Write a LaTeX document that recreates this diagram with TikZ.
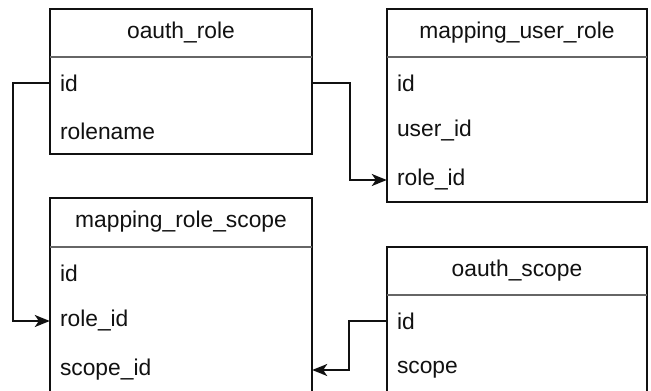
\documentclass[tikz,border=0pt]{standalone}
\usepackage{fontspec}
\setmainfont{Liberation Sans}
\usetikzlibrary{arrows.meta}
\definecolor{ink}{HTML}{111111}
\definecolor{sep}{HTML}{666666}
\begin{document}
\begin{tikzpicture}[x=1pt,y=-1pt,
  tblbox/.style={draw=ink,line width=1.6pt,fill=white},
  sepline/.style={draw=sep,line width=2pt},
  headtxt/.style={font=\fontsize{22.8}{24}\selectfont,text=ink,anchor=center,inner sep=0pt},
  rowtxt/.style={font=\fontsize{22.8}{24}\selectfont,text=ink,minimum width=262pt,minimum height=48pt,text width=242pt,align=left,inner sep=0pt,anchor=center},
  link/.style={draw=ink,line width=1.6pt,-{Stealth[length=15pt,width=12pt,inset=4pt]}}]
\useasboundingbox (0,0) rectangle (651,391);
\clip (0,0) rectangle (651,391);
% oauth_role
\draw[tblbox] (50,9) rectangle (312,154);
\draw[sepline] (50,57) -- (312,57);
\node[headtxt] (orh) at (181,33) {oauth\_role};
\node[rowtxt] (orid) at (181,83) {id};
\node[rowtxt] (orname) at (181,131) {rolename};
% mapping_user_role
\draw[tblbox] (387,9) rectangle (647,202);
\draw[sepline] (387,57) -- (647,57);
\node[headtxt] (murh) at (517,33) {mapping\_user\_role};
\node[rowtxt,minimum width=260pt,text width=240pt] (murid) at (517,83) {id};
\node[rowtxt,minimum width=260pt,text width=240pt] (muruser) at (517,131) {user\_id};
\node[rowtxt,minimum width=260pt,text width=240pt] (murrole) at (517,180) {role\_id};
% mapping_role_scope
\draw[tblbox] (50,198) rectangle (312,400);
\draw[sepline] (50,247) -- (312,247);
\node[headtxt] (mrsh) at (181,222) {mapping\_role\_scope};
\node[rowtxt] (mrsid) at (181,273) {id};
\node[rowtxt] (mrsrole) at (181,321) {role\_id};
\node[rowtxt] (mrsscope) at (181,370) {scope\_id};
% oauth_scope
\draw[tblbox] (387,247) rectangle (647,400);
\draw[sepline] (387,295) -- (647,295);
\node[headtxt] (osh) at (517,271) {oauth\_scope};
\node[rowtxt,minimum width=260pt,text width=240pt] (osid) at (517,321) {id};
\node[rowtxt,minimum width=260pt,text width=240pt] (osscope) at (517,370) {scope};
% connectors
\draw[link] (orid.west) -- ++(-37,0) |- (mrsrole.west);
\draw[link] (orid.east) -- ++(38,0) |- (murrole.west);
\draw[link] (osid.west) -- ++(-38,0) |- (mrsscope.east);
\end{tikzpicture}
\end{document}
